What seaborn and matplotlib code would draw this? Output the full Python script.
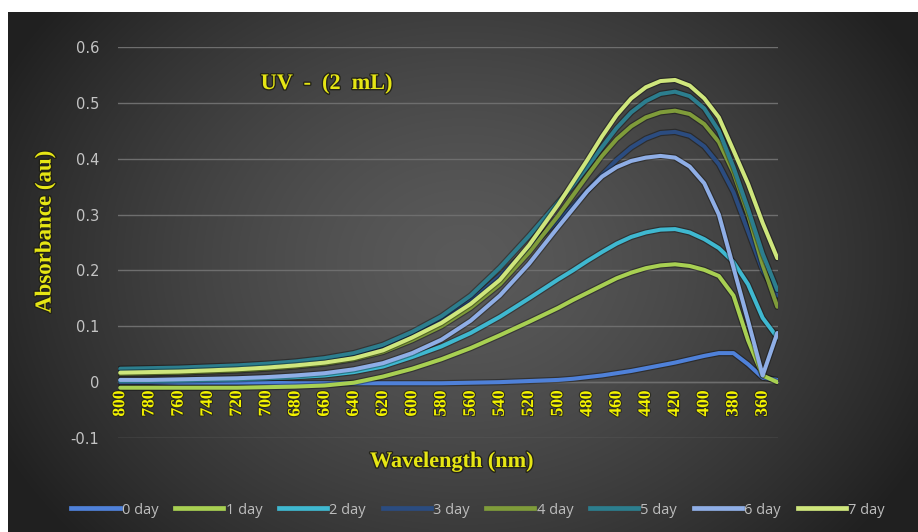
import numpy as np
import pandas as pd
import matplotlib
matplotlib.use("Agg")
import matplotlib.pyplot as plt
import matplotlib.patheffects as pe
from matplotlib.lines import Line2D
import seaborn as sns

# ---------------- data ----------------
wavelength = [800, 780, 760, 740, 720, 700, 680, 660, 640, 620, 600, 580, 560, 540, 520, 500,
              490, 480, 470, 460, 450, 440, 430, 420, 410, 400, 390, 380, 370, 360, 350]

day0 = [0.000, 0.000, -0.001, -0.001, -0.001, -0.001, -0.002, -0.002, -0.002, -0.002, -0.002, -0.002,
        -0.001, 0.000, 0.002, 0.004, 0.006, 0.009, 0.012, 0.016, 0.020, 0.025, 0.030, 0.035, 0.041,
        0.047, 0.052, 0.052, 0.032, 0.008, 0.004]
day1 = [-0.010, -0.010, -0.010, -0.010, -0.010, -0.009, -0.008, -0.006, -0.001, 0.010, 0.024, 0.041,
        0.061, 0.084, 0.108, 0.133, 0.147, 0.160, 0.173, 0.186, 0.196, 0.204, 0.209, 0.211, 0.208,
        0.201, 0.190, 0.155, 0.075, 0.012, 0.000]
day2 = [0.002, 0.002, 0.003, 0.004, 0.005, 0.007, 0.009, 0.012, 0.018, 0.028, 0.045, 0.064, 0.088,
        0.117, 0.150, 0.184, 0.200, 0.217, 0.233, 0.248, 0.260, 0.268, 0.273, 0.274, 0.268, 0.256,
        0.240, 0.215, 0.175, 0.115, 0.080]
day3 = [0.021, 0.022, 0.023, 0.025, 0.027, 0.030, 0.034, 0.040, 0.049, 0.063, 0.084, 0.110, 0.145,
        0.190, 0.240, 0.290, 0.315, 0.343, 0.371, 0.398, 0.420, 0.436, 0.446, 0.448, 0.441, 0.422,
        0.390, 0.340, 0.270, 0.200, 0.155]
day4 = [0.015, 0.016, 0.017, 0.019, 0.021, 0.024, 0.028, 0.033, 0.041, 0.054, 0.075, 0.100, 0.133,
        0.175, 0.232, 0.298, 0.334, 0.370, 0.405, 0.435, 0.458, 0.474, 0.483, 0.486, 0.480, 0.462,
        0.430, 0.375, 0.300, 0.210, 0.135]
day5 = [0.024, 0.025, 0.026, 0.028, 0.030, 0.033, 0.037, 0.043, 0.052, 0.067, 0.090, 0.118, 0.155,
        0.205, 0.262, 0.322, 0.352, 0.386, 0.421, 0.455, 0.483, 0.503, 0.516, 0.520, 0.512, 0.490,
        0.450, 0.385, 0.310, 0.230, 0.165]
day6 = [0.004, 0.004, 0.005, 0.006, 0.007, 0.009, 0.012, 0.016, 0.023, 0.034, 0.052, 0.076, 0.110,
        0.155, 0.212, 0.278, 0.310, 0.342, 0.368, 0.385, 0.396, 0.402, 0.405, 0.402, 0.386, 0.356,
        0.300, 0.205, 0.110, 0.012, 0.088]
day7 = [0.017, 0.018, 0.019, 0.021, 0.023, 0.026, 0.030, 0.035, 0.043, 0.057, 0.080, 0.106, 0.140,
        0.183, 0.245, 0.318, 0.358, 0.398, 0.440, 0.478, 0.508, 0.528, 0.539, 0.541, 0.531, 0.508,
        0.474, 0.415, 0.355, 0.285, 0.222]

series_names = ["0 day", "1 day", "2 day", "3 day", "4 day", "5 day", "6 day", "7 day"]
series_values = [day0, day1, day2, day3, day4, day5, day6, day7]
series_colors = ["#4F81D9", "#A8D052", "#3FB8D0", "#2B4C80", "#7F9C3A", "#2C7E8E", "#8FAEE6", "#CFE67C"]

x_ticks = list(range(800, 359, -20))
y_ticks = [-0.1, 0, 0.1, 0.2, 0.3, 0.4, 0.5, 0.6]
y_tick_labels = ["-0.1", "0", "0.1", "0.2", "0.3", "0.4", "0.5", "0.6"]

title_text = "UV  -  (2  mL)"
xlabel_text = "Wavelength (nm)"
ylabel_text = "Absorbance (au)"

# ---------------- figure ----------------
W, H = 918, 532
fig = plt.figure(figsize=(W / 100, H / 100), dpi=100)
fig.patch.set_facecolor("white")

# dark radial background
bg = fig.add_axes([8 / W, 0, (W - 8) / W, (H - 12) / H])
bg.set_axis_off()
gy, gx = np.mgrid[0:520, 0:910]
cx, cy = 455, 250
r = np.sqrt(((gx - cx) / 520.0) ** 2 + ((gy - cy) / 420.0) ** 2)
val = 90 - 58 * np.clip(r, 0, 1) ** 1.4
img = np.dstack([val, val, val]) / 255.0
bg.imshow(img, aspect="auto", interpolation="bilinear")

# main axes: x from px 118 to 778, y 0.6 at 47, -0.1 at 438
ax = fig.add_axes([118 / W, (H - 438) / H, 660 / W, 391 / H])
ax.set_facecolor((0, 0, 0, 0))

df = pd.DataFrame({
    "Wavelength": np.tile(wavelength, len(series_names)),
    "Absorbance": np.concatenate(series_values),
    "Day": np.repeat(series_names, len(wavelength)),
})
palette = dict(zip(series_names, series_colors))
sns.lineplot(data=df, x="Wavelength", y="Absorbance", hue="Day", hue_order=series_names,
             palette=palette, estimator=None, sort=False, linewidth=2.9, ax=ax, legend=False)

for ln in ax.lines:
    ln.set_path_effects([pe.Stroke(linewidth=4.6, foreground=(0, 0, 0, 0.35)), pe.Normal()])
    ln.set_solid_capstyle("round")
    ln.set_solid_joinstyle("round")
    ln.set_zorder(3)

ax.set_xlim(801.5, 349.5)
ax.set_ylim(-0.1, 0.6)
ax.set_xticks(x_ticks)
ax.set_xticklabels([str(t) for t in x_ticks])
ax.set_yticks(y_ticks)
ax.set_yticklabels(y_tick_labels)

ax.grid(axis="y", color="#6E6E6E", linewidth=1.0, zorder=1)
ax.grid(axis="x", visible=False)
for s in ["top", "right", "left"]:
    ax.spines[s].set_visible(False)
ax.spines["bottom"].set_position(("data", 0))
ax.spines["bottom"].set_color("#6E6E6E")
ax.spines["bottom"].set_linewidth(1.0)

ax.tick_params(axis="y", length=0, pad=13.5, labelcolor="#C4C4C4", labelsize=10.5)
ax.tick_params(axis="x", length=0, pad=6)
shadow = [pe.withStroke(linewidth=1.6, foreground=(0.15, 0.15, 0.1, 0.8))]
for lab in ax.get_xticklabels():
    lab.set_rotation(90)
    lab.set_fontfamily("Liberation Serif")
    lab.set_fontweight("bold")
    lab.set_fontsize(12.5)
    lab.set_color("#F2F200")
    lab.set_path_effects(shadow)
    lab.set_va("top")
for lab in ax.get_yticklabels():
    lab.set_fontfamily("DejaVu Sans")
ax.set_xlabel("")
ax.set_ylabel("")

yellow = "#E6E614"
tshadow = [pe.withStroke(linewidth=2.0, foreground=(0.12, 0.12, 0.08, 0.85))]
fig.text(327 / W, 1 - 84 / H, title_text, ha="center", va="center", color=yellow,
         fontfamily="Liberation Serif", fontweight="bold", fontsize=16, path_effects=tshadow)
fig.text(452 / W, 1 - 462 / H, xlabel_text, ha="center", va="center", color=yellow,
         fontfamily="Liberation Serif", fontweight="bold", fontsize=16, path_effects=tshadow)
fig.text(45 / W, 1 - 232 / H, ylabel_text, ha="center", va="center", rotation=90, color=yellow,
         fontfamily="Liberation Serif", fontweight="bold", fontsize=16.5, path_effects=tshadow)

handles = [Line2D([0], [0], color=c, linewidth=3.4) for c in series_colors]
leg = fig.legend(handles, series_names, loc="center", bbox_to_anchor=(478 / W, 1 - 510 / H),
                 ncol=8, frameon=False, handlelength=3.3, handletextpad=0.15, columnspacing=1.15,
                 prop={"family": "Open Sans", "size": 10.5})
for t in leg.get_texts():
    t.set_color("#BDBDBD")

fig.savefig("out.png", dpi=100, facecolor=fig.get_facecolor())
